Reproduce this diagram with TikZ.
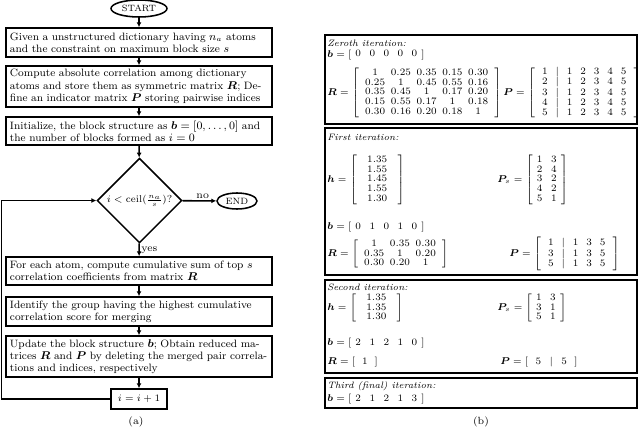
\documentclass[tikz,border=0pt]{standalone}
\usepackage{amsmath}
\usepackage{bm}
\usetikzlibrary{shapes.geometric}
\usetikzlibrary{positioning}
\usetikzlibrary{arrows.meta}
\tikzset{
    stepbox/.style = {rectangle, line width=1.1pt, draw=black, align=left, text width=6.45cm, inner xsep=0.1cm, inner ysep=0pt, font=\fontsize{7.6}{8.7}\selectfont},
    termnode/.style = {ellipse, line width=1.1pt, draw=black, inner sep=0pt, font=\fontsize{6.5}{8}\selectfont},
    condnode/.style = {diamond, aspect=1, line width=1.1pt, draw=black, inner sep=0pt, minimum size=2.12cm, font=\fontsize{7.2}{8.6}\selectfont},
    incrnode/.style = {rectangle, line width=1.1pt, draw=black, minimum width=1.4cm, minimum height=0.5cm, inner sep=0pt, font=\fontsize{7.4}{8.6}\selectfont},
    flowarrow/.style = {-{Latex[length=3.5pt,width=3.5pt]}, line width=1.1pt, black},
    iterbox/.style = {line width=1.4pt, draw=black},
    itertext/.style = {anchor=west, inner sep=0pt, font=\fontsize{6.6}{7.1}\selectfont},
    caption/.style = {font=\fontsize{7.4}{8.6}\selectfont}
}

\begin{document}
\begin{tikzpicture}[x=0.025cm,y=-0.025cm]
\useasboundingbox (0,0) rectangle (640,429);
% flowchart (a)
\node[termnode, minimum width=1.4cm, minimum height=0.425cm] at (139, 8.5) (start) {START};
\node[stepbox, minimum height=0.725cm] at (139, 42.5) (given) {Given a unstructured dictionary having $n_a$ atoms\\and the constraint on maximum block size $s$};
\node[stepbox, minimum height=1.025cm] at (139, 86.5) (corr) {Compute absolute correlation among dictionary\\atoms and store them as symmetric matrix $\bm{R}$; De-\\fine an indicator matrix $\bm{P}$ storing pairwise indices};
\node[stepbox, minimum height=0.7cm] at (139, 131) (init) {Initialize, the block structure as $\bm{b}=[0,\ldots,0]$ and\\the number of blocks formed as $i=0$};
\node[condnode] at (139.5, 200.5) (cond) {$i<\mathrm{ceil}(\frac{n_a}{s})$?};
\node[termnode, minimum width=1.0cm, minimum height=0.4cm] at (237, 201) (end) {END};
\node[stepbox, minimum height=0.7cm] at (139, 271) (cumsum) {For each atom, compute cumulative sum of top $s$\\correlation coefficients from matrix $\bm{R}$};
\node[stepbox, minimum height=0.725cm] at (139, 311.5) (merge) {Identify the group having the highest cumulative\\correlation score for merging};
\node[stepbox, minimum height=1.025cm] at (139, 356.5) (update) {Update the block structure $\bm{b}$; Obtain reduced ma-\\trices $\bm{R}$ and $\bm{P}$ by deleting the merged pair correla-\\tions and indices, respectively};
\node[incrnode] at (139, 399) (incr) {$i=i+1$};
\coordinate (loop) at (1.5, 399);
\draw[flowarrow] (start) -- (given);
\draw[flowarrow] (given) -- (corr);
\draw[flowarrow] (corr) -- (init);
\draw[flowarrow] (init) -- (cond);
\draw[flowarrow] (cond) -- node[above, caption, inner sep=1pt, pos=0.6] {no} (end);
\draw[flowarrow] (cond) -- node[right, caption, inner sep=1pt] {yes} (cumsum);
\draw[flowarrow] (cumsum) -- (merge);
\draw[flowarrow] (merge) -- (update);
\draw[flowarrow] (update) -- (incr);
\draw[flowarrow] (incr.west) -- (loop) |- (cond.west);
\node[caption] at (136, 422) (capa) {(a)};
% iterations (b)
\draw[iterbox] (325,35) rectangle (637,124);
\draw[iterbox] (325,128) rectangle (637,275);
\draw[iterbox] (325,280) rectangle (637,373);
\draw[iterbox] (325,378) rectangle (637,408);
% zeroth
\node[itertext] at (327, 43) (lab0) {\textit{Zeroth iteration:}};
\node[itertext] at (327, 55) (b0) {\setlength{\arraycolsep}{3.0pt}$\bm{b}=\left[\begin{array}{ccccc}0&0&0&0&0\end{array}\right]$};
\node[itertext] at (327, 93) (R0) {\setlength{\arraycolsep}{2.0pt}$\bm{R}=\left[\;\begin{array}{ccccc}1&0.25&0.35&0.15&0.30\\0.25&1&0.45&0.55&0.16\\0.35&0.45&1&0.17&0.20\\0.15&0.55&0.17&1&0.18\\0.30&0.16&0.20&0.18&1\end{array}\;\right]$};
\node[itertext] at (503, 93) (P0) {\setlength{\arraycolsep}{2.8pt}$\bm{P}=\left[\;\begin{array}{ccccccc}1&|&1&2&3&4&5\\2&|&1&2&3&4&5\\3&|&1&2&3&4&5\\4&|&1&2&3&4&5\\5&|&1&2&3&4&5\end{array}\;\right]$};
% first
\node[itertext] at (327, 137) (lab1) {\textit{First iteration:}};
\node[itertext] at (327, 180) (h1) {$\bm{h}=\left[\;\begin{array}{c}1.35\\1.55\\1.45\\1.55\\1.30\end{array}\;\right]$};
\node[itertext] at (497, 180) (Ps1) {\setlength{\arraycolsep}{3.0pt}$\bm{P}_s=\left[\begin{array}{cc}1&3\\2&4\\3&2\\4&2\\5&1\end{array}\right]$};
\node[itertext] at (327, 227) (b1) {\setlength{\arraycolsep}{3.0pt}$\bm{b}=\left[\begin{array}{ccccc}0&1&0&1&0\end{array}\right]$};
\node[itertext] at (327, 254) (R1) {\setlength{\arraycolsep}{2.0pt}$\bm{R}=\left[\;\begin{array}{ccc}1&0.35&0.30\\0.35&1&0.20\\0.30&0.20&1\end{array}\;\right]$};
\node[itertext] at (509, 254) (P1) {\setlength{\arraycolsep}{2.8pt}$\bm{P}=\left[\;\begin{array}{ccccc}1&|&1&3&5\\3&|&1&3&5\\5&|&1&3&5\end{array}\;\right]$};
% second
\node[itertext] at (327, 287) (lab2) {\textit{Second iteration:}};
\node[itertext] at (327, 308) (h2) {$\bm{h}=\left[\;\begin{array}{c}1.35\\1.35\\1.30\end{array}\;\right]$};
\node[itertext] at (497, 308) (Ps2) {\setlength{\arraycolsep}{3.0pt}$\bm{P}_s=\left[\begin{array}{cc}1&3\\3&1\\5&1\end{array}\right]$};
\node[itertext] at (327, 343) (b2) {\setlength{\arraycolsep}{3.0pt}$\bm{b}=\left[\begin{array}{ccccc}2&1&2&1&0\end{array}\right]$};
\node[itertext] at (327, 362) (R2) {$\bm{R}=\left[\begin{array}{c}1\end{array}\right]$};
\node[itertext] at (500, 362) (P2) {\setlength{\arraycolsep}{3.0pt}$\bm{P}=\left[\;\begin{array}{ccc}5&|&5\end{array}\;\right]$};
% third
\node[itertext] at (327, 386) (lab3) {\textit{Third (final) iteration:}};
\node[itertext] at (327, 399) (b3) {\setlength{\arraycolsep}{3.0pt}$\bm{b}=\left[\begin{array}{ccccc}2&1&2&1&3\end{array}\right]$};
\node[caption] at (481, 422) (capb) {(b)};
\end{tikzpicture}
\end{document}
